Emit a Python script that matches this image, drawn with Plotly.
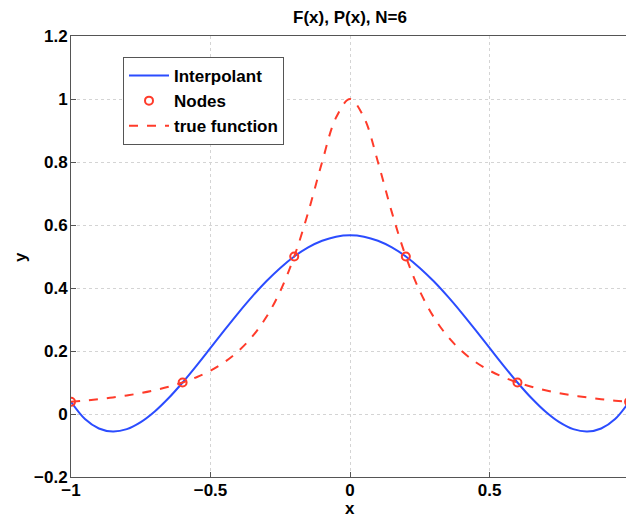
import plotly.graph_objects as go

# sample x positions
x_vals = [-1.0, -0.95, -0.9, -0.85, -0.8, -0.75, -0.7, -0.65, -0.6, -0.55, -0.5, -0.45, -0.4, -0.35, -0.3, -0.25,
          -0.2, -0.15, -0.1, -0.05, 0.0, 0.05, 0.1, 0.15, 0.2, 0.25, 0.3, 0.35, 0.4, 0.45, 0.5, 0.55, 0.6,
          0.65, 0.7, 0.75, 0.8, 0.85, 0.9, 0.95, 1.0]
interp_vals = [0.0385, -0.0160, -0.0460, -0.0557, -0.0481, -0.0260, 0.0078, 0.0506, 0.1000, 0.1537, 0.2097,
               0.2661, 0.3212, 0.3733, 0.4213, 0.4638, 0.5000, 0.5290, 0.5501, 0.5630, 0.5673, 0.5630, 0.5501,
               0.5290, 0.5000, 0.4638, 0.4213, 0.3733, 0.3212, 0.2661, 0.2097, 0.1537, 0.1000, 0.0506, 0.0078,
               -0.0260, -0.0481, -0.0557, -0.0460, -0.0160, 0.0385]
true_vals = [0.0385, 0.0424, 0.0471, 0.0525, 0.0588, 0.0664, 0.0755, 0.0865, 0.1000, 0.1168, 0.1379, 0.1649,
             0.2000, 0.2462, 0.3077, 0.3902, 0.5000, 0.6400, 0.8000, 0.9412, 1.0000, 0.9412, 0.8000, 0.6400,
             0.5000, 0.3902, 0.3077, 0.2462, 0.2000, 0.1649, 0.1379, 0.1168, 0.1000, 0.0865, 0.0755, 0.0664,
             0.0588, 0.0525, 0.0471, 0.0424, 0.0385]
node_x = [-1.0, -0.6, -0.2, 0.2, 0.6, 1.0]
node_y = [0.0385, 0.1, 0.5, 0.5, 0.1, 0.0385]

x_ticks = [-1, -0.5, 0, 0.5, 1]
x_tick_text = ["\u22121", "\u22120.5", "0", "0.5", "1"]
y_ticks = [-0.2, 0, 0.2, 0.4, 0.6, 0.8, 1, 1.2]
y_tick_text = ["\u22120.2", "0", "0.2", "0.4", "0.6", "0.8", "1", "1.2"]

font_family = "Liberation Sans, Arial, sans-serif"
FS = 17
W, H = 626, 517
L, R, T, B = 71, 0, 36, 40
PW, PH = W - L - R, H - T - B

fig = go.Figure()
fig.add_trace(go.Scatter(x=x_vals, y=interp_vals, mode="lines", name="<b>Interpolant</b>",
                         line=dict(color="#2b4cff", width=2, shape="spline")))
fig.add_trace(go.Scatter(x=node_x, y=node_y, mode="markers", name="<b>Nodes</b>",
                         marker=dict(symbol="circle-open", color="#ff3b2a", size=8, line=dict(width=2))))
fig.add_trace(go.Scatter(x=x_vals, y=true_vals, mode="lines", name="<b>true function</b>",
                         line=dict(color="#ff3b2a", width=2, dash="dash", shape="spline")))

axis_common = dict(showline=True, linecolor="#555555", linewidth=1, ticks="inside", ticklen=5,
                   tickcolor="#555555", showgrid=True, gridcolor="#d4d4d4", griddash="dot", gridwidth=1,
                   zeroline=False, automargin=False,
                   tickfont=dict(family=font_family, size=FS, color="black"))

fig.update_layout(
    width=W, height=H,
    margin=dict(l=L, r=R, t=T, b=B),
    paper_bgcolor="white", plot_bgcolor="white",
    title=dict(text="<b>F(x), P(x), N=6</b>", x=350 / W, xref="container", xanchor="center",
               y=1 - 17 / H, yanchor="middle", font=dict(family=font_family, size=FS, color="black")),
    xaxis=dict(range=[-1, 0.989], tickvals=x_ticks, ticktext=["<b>%s</b>" % t for t in x_tick_text],
               mirror=True, ticklabelstandoff=-2, **axis_common),
    yaxis=dict(range=[-0.2, 1.2], tickvals=y_ticks, ticktext=["<b>%s</b>" % t for t in y_tick_text],
               ticklabelstandoff=-1, **axis_common),
    legend=dict(x=(123 - L) / PW, y=1 - (57 - T) / PH, xanchor="left", yanchor="top",
                bgcolor="white", bordercolor="#555555", borderwidth=1,
                font=dict(family=font_family, size=FS, color="black"), tracegroupgap=0, itemwidth=40),
    showlegend=True,
    annotations=[
        dict(text="<b>x</b>", xref="paper", yref="paper", x=(350 - L) / PW, y=-(509 - (H - B)) / PH,
             showarrow=False, xanchor="center", yanchor="middle",
             font=dict(family=font_family, size=FS, color="black")),
        dict(text="<b>y</b>", xref="paper", yref="paper", x=-(L - 20) / PW, y=(H - B - 257) / PH,
             showarrow=False, textangle=-90, xanchor="center", yanchor="middle",
             font=dict(family=font_family, size=FS, color="black")),
    ],
)

fig.write_html("out.html", config={"displayModeBar": False},
               post_script="document.body.style.margin='0';")
